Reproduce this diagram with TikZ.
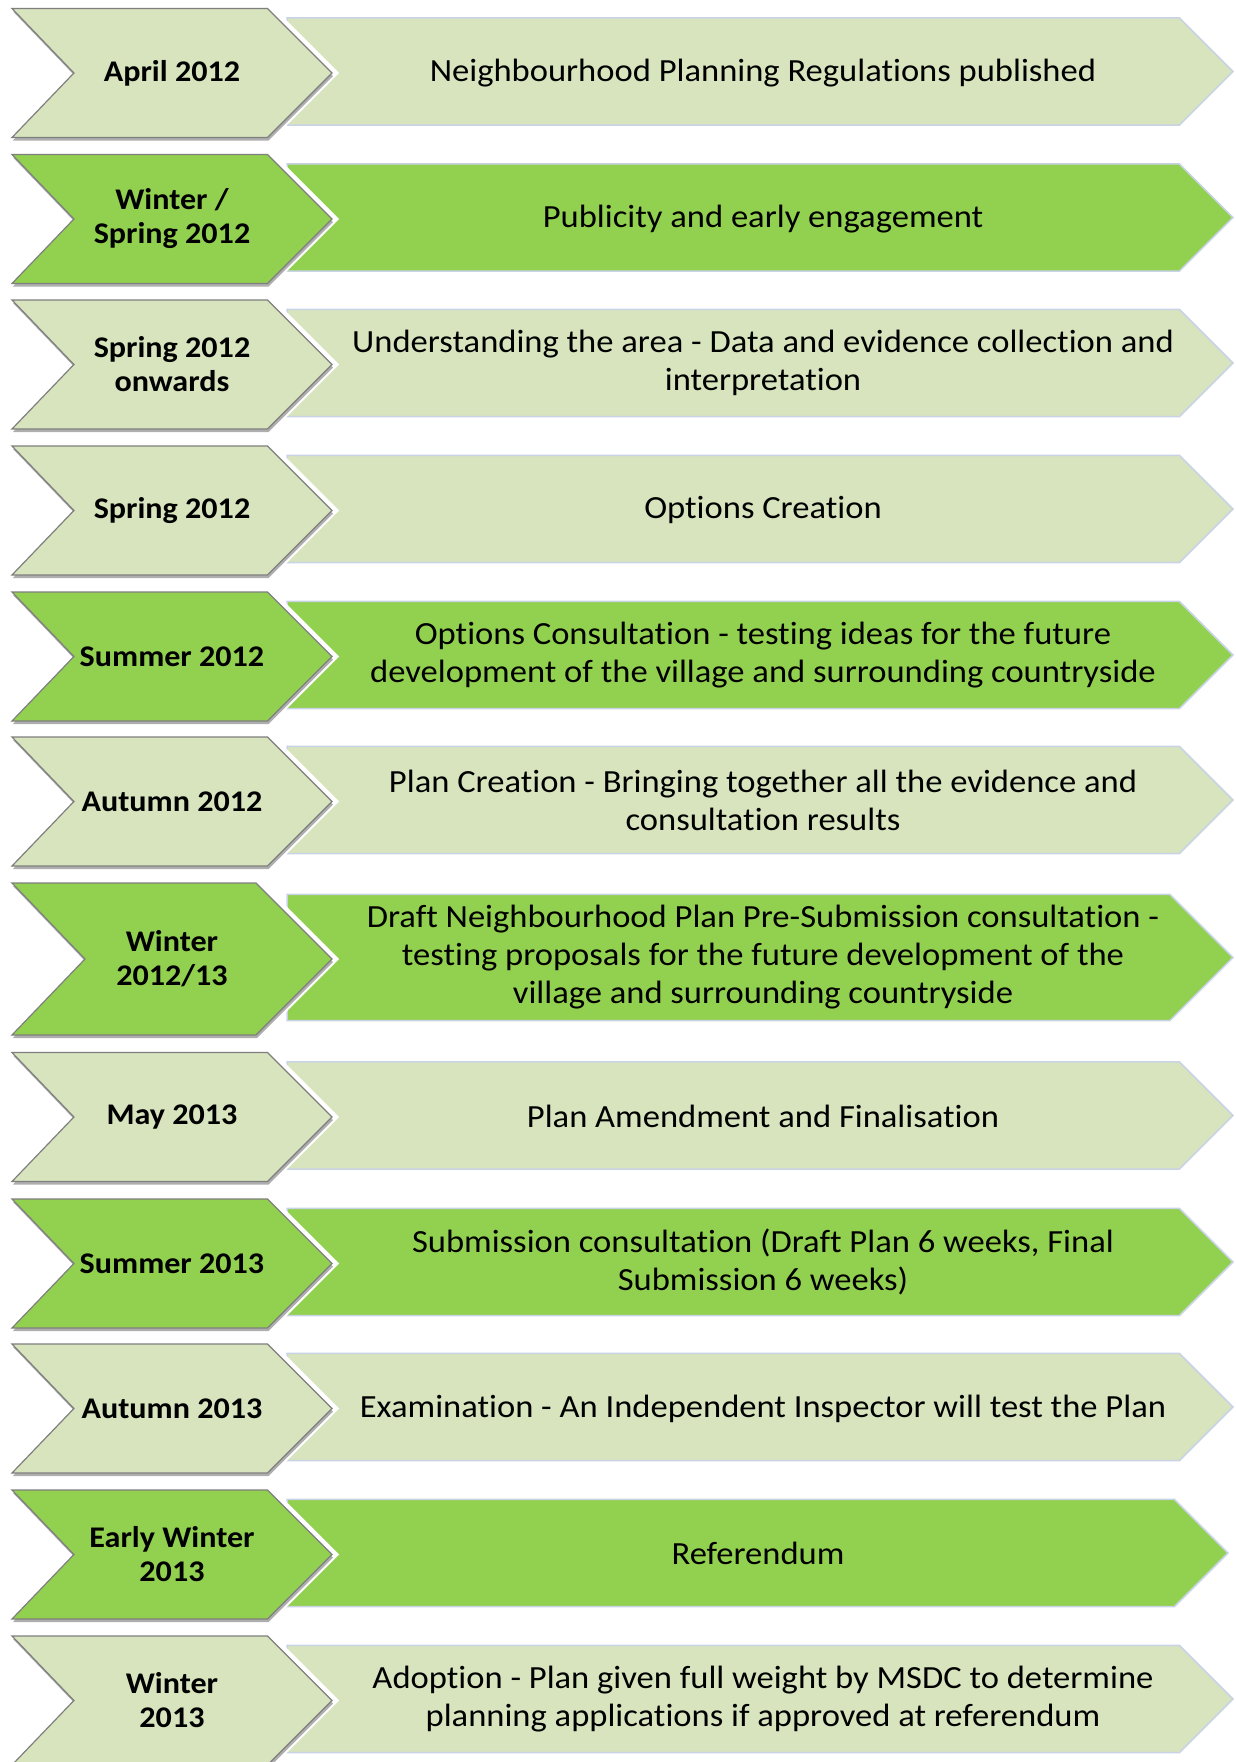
\documentclass[tikz,border=0pt]{standalone}
\usepackage{fontspec}
\setmainfont{Carlito}[FakeStretch=1.07,Ligatures=NoCommon]
\usepackage{tikz}
\usepackage{xcolor}
\usetikzlibrary{shadows}
\definecolor{palegreen}{HTML}{D7E4BD}
\definecolor{leafgreen}{HTML}{92D050}
\definecolor{bannerline}{HTML}{C9D3E6}
\definecolor{chevronline}{HTML}{7F7F7F}

\begin{document}
\begin{tikzpicture}[x=1pt,y=-1pt]
            \tikzset{Chevron/.style={%
                draw=chevronline,%
                line width=1.2pt,%
                line join=miter,%
                preaction={draw=white, line width=10pt},%
                drop shadow={shadow xshift=1pt, shadow yshift=-3pt, opacity=0.45, fill=black!70},%
            }}
            \tikzset{Banner/.style={%
                draw=bannerline,%
                line width=1.5pt,%
                line join=miter,%
            }}
            \tikzset{DateText/.style={%
                font=\bfseries\fontsize{30}{34}\selectfont,%
                align=center,%
                inner sep=0pt,%
            }}
            \tikzset{StepText/.style={%
                font=\fontsize{32.3}{38}\selectfont,%
                align=center,%
                inner sep=0pt,%
            }}

            \useasboundingbox (0,0) rectangle (1235,1762);

            \foreach \yc/\hc/\col/\tip in {73/64.5/palegreen/1233, 219/64.5/leafgreen/1233,
                364.5/64.5/palegreen/1233, 510.5/64.5/palegreen/1233, 656.5/64.5/leafgreen/1233,
                801.5/64.5/palegreen/1233, 959/76/leafgreen/1233, 1117/64.5/palegreen/1233,
                1263.5/64.5/leafgreen/1233, 1408.5/64.5/palegreen/1233, 1554.5/64.5/leafgreen/1228,
                1700.5/64.5/palegreen/1233}{
                \pgfmathsetmacro\hb{0.83*\hc}
                \pgfmathsetmacro\yb{\yc-1.5}
                \path[Banner, fill=\col] (287,\yb-\hb) -- (\tip-\hb,\yb-\hb) -- (\tip,\yb)
                    -- (\tip-\hb,\yb+\hb) -- (287,\yb+\hb) -- cycle;
                \path[Chevron, fill=\col] (12,\yc-\hc) -- (332-\hc,\yc-\hc) -- (332,\yc)
                    -- (332-\hc,\yc+\hc) -- (12,\yc+\hc) -- (12+0.96*\hc,\yc) -- cycle;
            }

            \node[DateText] (d1) at (172,73) {April 2012};
            \node[StepText] (s1) at (763,73) {Neighbourhood Planning Regulations published};
            \node[DateText] (d2) at (172,219) {Winter /\\Spring 2012};
            \node[StepText] (s2) at (763,219) {Publicity and early engagement};
            \node[DateText] (d3) at (172,364.5) {Spring 2012\\onwards};
            \node[StepText] (s3) at (763,363) {Understanding the area - Data and evidence collection and\\interpretation};
            \node[DateText] (d4) at (172,510.5) {Spring 2012};
            \node[StepText] (s4) at (763,510) {Options Creation};
            \node[DateText] (d5) at (172,656.5) {Summer 2012};
            \node[StepText] (s5) at (763,655) {Options Consultation - testing ideas for the future\\development of the village and surrounding countryside};
            \node[DateText] (d6) at (172,801.5) {Autumn 2012};
            \node[StepText] (s6) at (763,800) {Plan Creation - Bringing together all the evidence and\\consultation results};
            \node[DateText] (d7) at (172,959) {Winter\\2012/13};
            \node[StepText] (s7) at (763,957.5) {Draft Neighbourhood Plan Pre-Submission consultation -\\testing proposals for the future development of the\\village and surrounding countryside};
            \node[DateText] (d8) at (172,1117) {May 2013};
            \node[StepText] (s8) at (763,1116.5) {Plan Amendment and Finalisation};
            \node[DateText] (d9) at (172,1263.5) {Summer 2013};
            \node[StepText] (s9) at (763,1262) {Submission consultation (Draft Plan 6 weeks, Final\\Submission 6 weeks)};
            \node[DateText] (d10) at (172,1408.5) {Autumn 2013};
            \node[StepText] (s10) at (763,1408.5) {Examination - An Independent Inspector will test the Plan};
            \node[DateText] (d11) at (172,1554.5) {Early Winter\\2013};
            \node[StepText] (s11) at (758,1553) {Referendum};
            \node[DateText] (d12) at (172,1700.5) {Winter\\2013};
            \node[StepText] (s12) at (763,1699) {Adoption - Plan given full weight by MSDC to determine\\planning applications if approved at referendum};
        \end{tikzpicture}
\end{document}
